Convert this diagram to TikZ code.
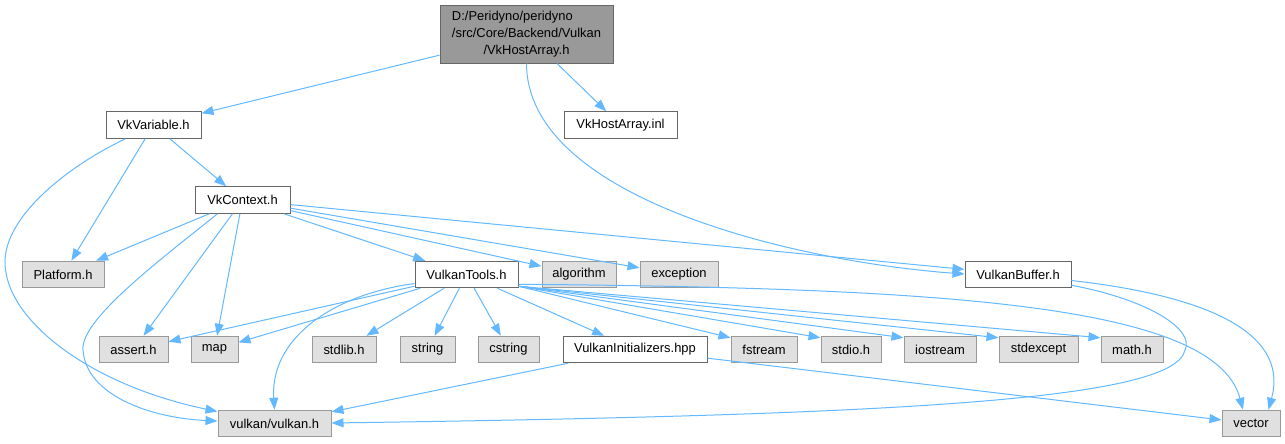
\documentclass[tikz,border=0pt]{standalone}
\usepackage{fontspec}
\setmainfont{Liberation Sans}
\usetikzlibrary{arrows.meta,calc}
\definecolor{edgec}{HTML}{63B8FF}
\definecolor{rootfill}{HTML}{999999}
\definecolor{rootdraw}{HTML}{666666}
\definecolor{projdraw}{HTML}{666666}
\definecolor{extfill}{HTML}{E0E0E0}
\definecolor{extdraw}{HTML}{999999}
\begin{document}
\begin{tikzpicture}[x=0.75pt,y=-0.75pt,
  every node/.style={font=\fontsize{9.7pt}{12.5pt}\selectfont, inner sep=0pt,
    minimum height=26.5*0.75pt, text=black, line width=0.75pt},
  rootbox/.style={draw=rootdraw, fill=rootfill},
  projbox/.style={draw=projdraw, fill=white},
  extbox/.style={draw=extdraw, fill=extfill},
  e/.style={draw=edgec, line width=0.75pt, -{Triangle[length=9pt,width=6.75pt]}},
]
\useasboundingbox (0,0) rectangle (1285,443);

% nodes
\node[rootbox, minimum width=173*0.75pt, minimum height=58*0.75pt, align=center] (root) at (526.5,34)
  {\rlap{D:/Peridyno/peridyno}\phantom{/src/Core/Backend/Vulkan}\\/src/Core/Backend/Vulkan\\/VkHostArray.h};
\node[projbox, minimum width=95*0.75pt] (vkvar) at (153.5,125) {VkVariable.h};
\node[projbox, minimum width=113*0.75pt] (inl) at (620.5,125) {VkHostArray.inl};
\node[projbox, minimum width=95*0.75pt] (vkctx) at (242.5,200) {VkContext.h};
\node[extbox, minimum width=82*0.75pt] (platform) at (63,274.5) {Platform.h};
\node[projbox, minimum width=103*0.75pt] (vtools) at (466.5,274.5) {VulkanTools.h};
\node[extbox, minimum width=74*0.75pt] (algorithm) at (579,274.5) {algorithm};
\node[extbox, minimum width=78*0.75pt] (exception) at (679,274.5) {exception};
\node[projbox, minimum width=106*0.75pt] (vbuf) at (1018,274.5) {VulkanBuffer.h};
\node[extbox, minimum width=69*0.75pt] (assert) at (133.5,349.5) {assert.h};
\node[extbox, minimum width=47*0.75pt] (map) at (214.5,349.5) {map};
\node[extbox, minimum width=64*0.75pt] (stdlib) at (344,349.5) {stdlib.h};
\node[extbox, minimum width=55*0.75pt] (string) at (427.5,349.5) {string};
\node[extbox, minimum width=61*0.75pt] (cstring) at (508.5,349.5) {cstring};
\node[projbox, minimum width=144*0.75pt] (vinit) at (635,349.5) {VulkanInitializers.hpp};
\node[extbox, minimum width=66*0.75pt] (fstream) at (764,349.5) {fstream};
\node[extbox, minimum width=60*0.75pt] (stdio) at (851,349.5) {stdio.h};
\node[extbox, minimum width=72*0.75pt] (iostream) at (940,349.5) {iostream};
\node[extbox, minimum width=79*0.75pt] (stdexcept) at (1038.5,349.5) {stdexcept};
\node[extbox, minimum width=62*0.75pt] (math) at (1132,349.5) {math.h};
\node[extbox, minimum width=113*0.75pt] (vulkanh) at (274.5,423.5) {vulkan/vulkan.h};
\node[extbox, minimum width=58*0.75pt] (vector) at (1251,423.5) {vector};

% edges from root
\draw[e] (root) -- (vkvar);
\draw[e] (root) -- (inl);
\draw[e] (root.south) .. controls (527,200) and (800,262) .. ($(vbuf.west)+(0,-0.5)$);

% edges from VkVariable.h
\draw[e] (vkvar) -- (vkctx);
\draw[e] (vkvar) -- (platform);
\draw[e] ($(vkvar.south west)+(20,0)$) .. controls (70,165) and (5,215) .. (5,262)
  .. controls (5,320) and (90,385) .. ($(vulkanh.west)+(0,-12)$);

% edges from VkContext.h
\draw[e] (vkctx) -- (platform);
\draw[e] (vkctx) -- (assert);
\draw[e] (vkctx) -- (map);
\draw[e] ($(vkctx.south west)+(23,0)$) .. controls (160,260) and (80,320) .. (83,350)
  .. controls (86,395) and (150,418) .. ($(vulkanh.west)+(0,-2.5)$);
\draw[e] (vkctx) -- (vtools);
\draw[e] (vkctx) -- (algorithm);
\draw[e] (vkctx) -- (exception);
\draw[e] (vkctx) -- (vbuf);

% edges from VulkanTools.h
\draw[e] (vtools) -- (assert);
\draw[e] (vtools) -- (map);
\draw[e] (vtools) -- (stdlib);
\draw[e] (vtools) -- (string);
\draw[e] (vtools) -- (cstring);
\draw[e] (vtools) -- (vinit);
\draw[e] ($(vtools.south east)+(0,-2)$) -- ($(fstream.north west)+(0,2)$);
\draw[e] ($(vtools.south east)+(0,-2)$) -- ($(stdio.north west)+(0,2)$);
\draw[e] ($(vtools.south east)+(0,-2)$) -- ($(iostream.north west)+(0,2)$);
\draw[e] ($(vtools.south east)+(0,-2)$) -- ($(stdexcept.north west)+(0,2)$);
\draw[e] ($(vtools.south east)+(0,-2)$) -- ($(math.north west)+(0,2)$);
\draw[e] ($(vtools.south east)+(0,-4)$) .. controls (950,288) and (1215,305) .. ($(vector.north)+(-8,0)$);
\draw[e] ($(vtools.west)+(0,9)$) .. controls (330,295) and (270,340) .. (vulkanh.north);

% edges from VulkanBuffer.h
\draw[e] ($(vbuf.south east)+(0,-3)$) .. controls (1150,300) and (1195,330) .. (1185,350)
  .. controls (1175,400) and (900,415) .. ($(vulkanh.east)+(0,-0.5)$);
\draw[e] ($(vbuf.east)+(0,6)$) .. controls (1200,295) and (1290,330) .. ($(vector.north east)+(-12,0)$);

% edges from VulkanInitializers.hpp
\draw[e] (vinit) -- (vulkanh);
\draw[e] (vinit) -- (vector);
\end{tikzpicture}
\end{document}
